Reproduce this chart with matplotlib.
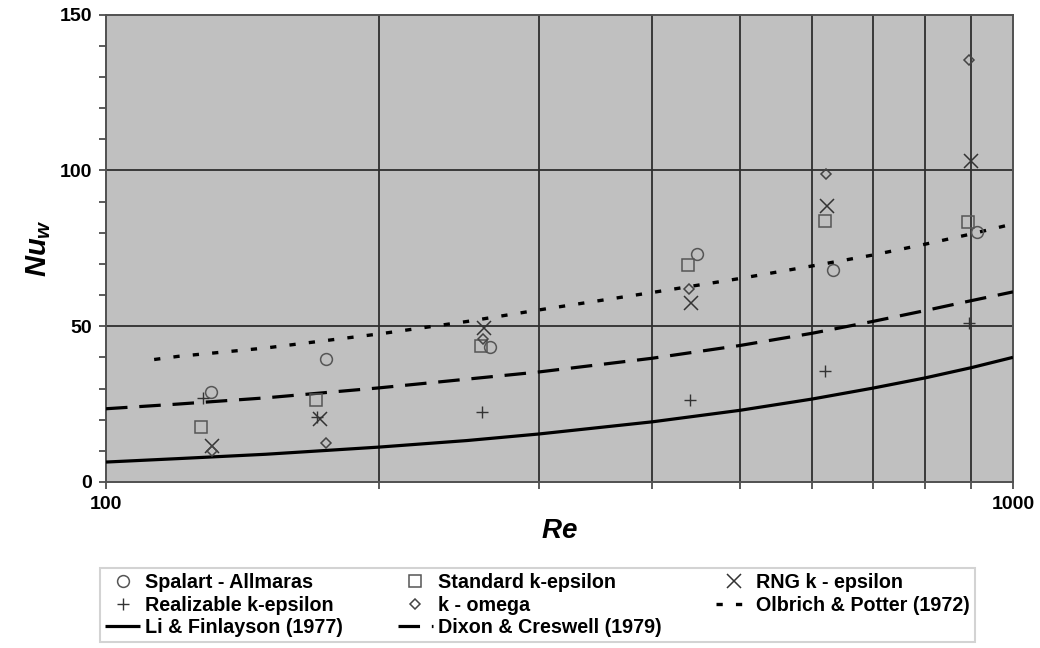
import matplotlib
matplotlib.use("Agg")
import matplotlib.pyplot as plt
from matplotlib.ticker import FixedLocator, FixedFormatter, NullFormatter, MultipleLocator

plt.rcParams["font.family"] = ["Liberation Sans", "DejaVu Sans"]
plt.rcParams["font.weight"] = "bold"
plt.rcParams["mathtext.fontset"] = "custom"
plt.rcParams["mathtext.it"] = "Liberation Sans:italic:bold"
plt.rcParams["mathtext.rm"] = "Liberation Sans:bold"
plt.rcParams["lines.scale_dashes"] = False

# CFD results: wall Nusselt number against Reynolds number
re_sa = [130.4, 174.7, 265.0, 448.7, 633.8, 913.0]
nu_sa = [28.8, 39.5, 43.3, 73.1, 67.9, 80.1]

re_ske = [127.3, 170.4, 258.9, 438.5, 621.0, 893.0]
nu_ske = [17.8, 26.3, 43.5, 69.5, 83.8, 83.3]

re_rng = [131.0, 172.2, 261.0, 441.6, 623.0, 898.0]
nu_rng = [11.6, 20.1, 49.4, 57.4, 88.4, 102.9]

re_rke = [127.8, 171.0, 260.0, 440.0, 621.0, 894.0]
nu_rke = [27.1, 20.8, 22.6, 26.4, 35.7, 51.0]

re_kw = [131.0, 174.7, 260.6, 439.7, 622.0, 895.0]
nu_kw = [10.1, 12.6, 45.8, 61.9, 98.8, 135.3]

# Correlations from the literature
re_corr = [100, 120, 150, 200, 250, 300, 400, 500, 600, 700, 800, 900, 1000]
nu_li = [6.4, 7.5, 8.9, 11.2, 13.3, 15.4, 19.3, 23.0, 26.6, 30.1, 33.4, 36.7, 40.0]
nu_dixon = [23.5, 25.0, 27.0, 30.2, 33.0, 35.3, 39.7, 43.8, 47.7, 51.5, 55.0, 58.2, 61.0]

re_olb = [113, 120, 150, 200, 250, 300, 400, 500, 600, 700, 800, 900, 1000]
nu_olb = [39.3, 40.3, 43.0, 47.5, 51.5, 55.2, 60.8, 65.3, 69.3, 72.8, 76.3, 79.6, 82.8]

x_ticks = [100, 1000]
x_tick_labels = ["100", "1000"]
x_grid = [200, 300, 400, 500, 600, 700, 800, 900]

fig = plt.figure(figsize=(10.4, 6.48), dpi=100)
ax = fig.add_axes([106 / 1040, 1 - 482 / 648, 907 / 1040, (482 - 14.5) / 648])
ax.set_facecolor("#c0c0c0")

grid_c = "#2e2e2e"
ax.set_xscale("log")
ax.set_xlim(100, 1000)
ax.set_ylim(0, 150)
for g in x_grid:
    ax.axvline(g, color=grid_c, lw=1.3, zorder=1)
for g in [50, 100]:
    ax.axhline(g, color=grid_c, lw=1.3, zorder=1)

ax.xaxis.set_major_locator(FixedLocator(x_ticks))
ax.xaxis.set_minor_locator(FixedLocator(x_grid))
ax.xaxis.set_major_formatter(FixedFormatter(x_tick_labels))
ax.xaxis.set_minor_formatter(NullFormatter())
ax.yaxis.set_major_locator(MultipleLocator(50))
ax.yaxis.set_minor_locator(MultipleLocator(10))

ax.tick_params(axis="both", which="both", direction="out", color="#404040",
               width=1.2, length=5)
ax.tick_params(axis="both", which="major", labelsize=14, pad=5)
for lab in ax.get_xticklabels() + ax.get_yticklabels():
    lab.set_fontweight("bold")
for s in ax.spines.values():
    s.set_color("#505050")
    s.set_linewidth(1.4)

# Correlation curves
h_li, = ax.plot(re_corr, nu_li, color="black", lw=2.3, solid_capstyle="butt",
                label="Li & Finlayson (1977)", zorder=3)
h_dx, = ax.plot(re_corr, nu_dixon, color="black", lw=2.3, dashes=(15.5, 8.5),
                dash_capstyle="butt", label="Dixon & Creswell (1979)", zorder=3)
h_ol, = ax.plot(re_olb, nu_olb, color="black", lw=2.4, dashes=(4.5, 9.5),
                dash_capstyle="butt", label="Olbrich & Potter (1972)", zorder=3)

# CFD model markers
mk = dict(linestyle="none", markerfacecolor="none", zorder=4)
h_sa, = ax.plot(re_sa, nu_sa, marker="o", ms=8.5, mec="#555555", mew=1.1,
                label="Spalart - Allmaras", **mk)
h_ske, = ax.plot(re_ske, nu_ske, marker="s", ms=8, mec="#555555", mew=1.1,
                 label="Standard k-epsilon", **mk)
h_rng, = ax.plot(re_rng, nu_rng, marker="x", ms=10, mec="#333333", mew=1.1,
                 label="RNG k - epsilon", **mk)
h_rke, = ax.plot(re_rke, nu_rke, marker="+", ms=9, mec="#333333", mew=1.0,
                 label="Realizable k-epsilon", **mk)
h_kw, = ax.plot(re_kw, nu_kw, marker="D", ms=5.5, mec="#444444", mew=1.1,
                label="k - omega", **mk)

ax.set_xlabel(r"$Re$", fontsize=20, labelpad=4)
ax.set_ylabel(r"$Nu_w$", fontsize=21, labelpad=5)

handles = [h_sa, h_rke, h_li, h_ske, h_kw, h_dx, h_rng, h_ol]
leg = fig.legend(handles=handles, labels=[h.get_label() for h in handles],
                 ncol=3, loc="lower left",
                 bbox_to_anchor=(100 / 1040, 6 / 648, 875 / 1040, 76 / 648),
                 mode="expand", frameon=True, fancybox=False, fontsize=14.2,
                 handlelength=1.8, handletextpad=0.25, borderpad=0.25,
                 labelspacing=0.18, columnspacing=1.0, borderaxespad=0)
leg.get_frame().set_edgecolor("#c8c8c8")
leg.get_frame().set_linewidth(1.5)
for t in leg.get_texts():
    t.set_fontweight("bold")

fig.savefig("out.png", dpi=100, facecolor="white")
